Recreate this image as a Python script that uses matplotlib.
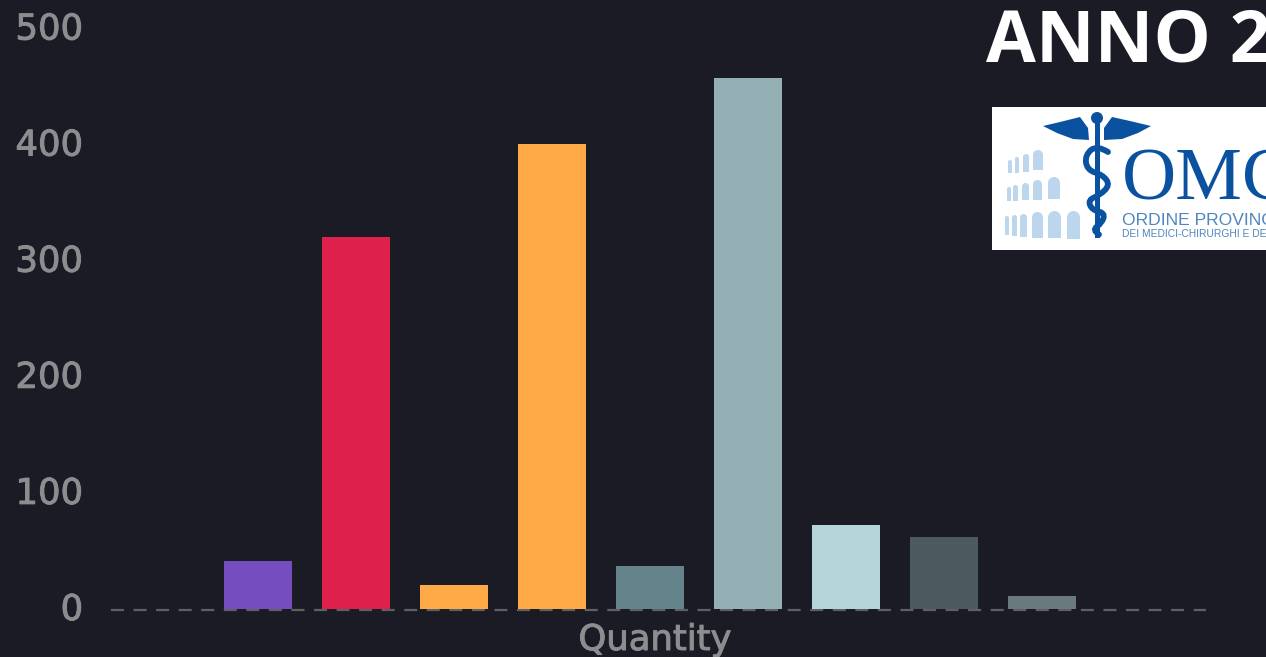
"""Bar chart of quantities on a dark slide, with the title and logo cut off at the right."""

import matplotlib
matplotlib.use("Agg")
import matplotlib.patheffects as pe
import matplotlib.pyplot as plt
from matplotlib.patches import Circle, PathPatch, Polygon, Rectangle
from matplotlib.path import Path
from matplotlib.transforms import ScaledTranslation

W, H = 1266, 657
BG = "#1a1b25"
GREY = "#8b8d8f"
LOGO_BLUE = "#0a52a0"
LOGO_PALE = "#bcd6ee"

values = [41, 320, 20, 400, 37, 457, 72, 62, 11]
bar_colors = ["#754dbf", "#de204d", "#ffa947", "#ffa947", "#64838a",
              "#94b0b5", "#b6d5da", "#4a5a5f", "#69797d"]
yticks = [0, 100, 200, 300, 400, 500]
xlabel = "Quantity"
title = "ANNO 2"
logo_word = "OMC"
logo_line1 = "ORDINE PROVINCIALE"
logo_line2 = "DEI MEDICI-CHIRURGHI E DEGLI"

# arches of the logo: left, right, top, bottom in pixels
arches = [
    (1008, 1012, 160, 173), (1015, 1019, 157, 173), (1023, 1029, 154, 172), (1033, 1043, 150, 170),
    (1007, 1011, 187, 201), (1013, 1018, 185, 201), (1022, 1029, 183, 200), (1033, 1042, 180, 200), (1048, 1060, 177, 199),
    (1005, 1009, 216, 235), (1012, 1017, 215, 236), (1020, 1027, 214, 237), (1032, 1043, 212, 238), (1048, 1061, 211, 238), (1067, 1080, 211, 239),
]
wing_left = [(1043, 126), (1060, 122), (1080, 117), (1088, 128), (1089, 140), (1073, 139), (1057, 133)]
wing_right = [(1151, 126), (1130, 121), (1112, 117), (1104, 128), (1104, 140), (1122, 139), (1138, 133)]
snake = [(1108, 152), (1097, 145), (1085, 155), (1087, 170), (1103, 175), (1110, 185), (1100, 195),
         (1088, 200), (1092, 210), (1105, 213), (1102, 223), (1092, 230), (1106, 239)]


def draw_logo(ov):
    ov.add_patch(Rectangle((992, 107), 274, 143, fc="white", ec="none", zorder=1))
    for x0, x1, top, bottom in arches:
        w = x1 - x0
        ov.add_patch(Rectangle((x0, top + w / 2), w, bottom - top - w / 2, fc=LOGO_PALE, ec="none", zorder=2))
        ov.add_patch(Circle(((x0 + x1) / 2, top + w / 2), w / 2, fc=LOGO_PALE, ec="none", zorder=2))
    ov.add_patch(Polygon(wing_left, fc=LOGO_BLUE, ec="none", zorder=3))
    ov.add_patch(Polygon(wing_right, fc=LOGO_BLUE, ec="none", zorder=3))
    ov.add_patch(Circle((1097, 118), 6, fc=LOGO_BLUE, ec="none", zorder=3))
    ov.add_patch(Rectangle((1095, 120), 4.5, 118, fc=LOGO_BLUE, ec="none", zorder=3))
    # snake as a smooth quadratic path through the midpoints
    verts = [snake[0]]
    codes = [Path.MOVETO]
    for p, q in zip(snake[1:-1], snake[2:]):
        verts += [p, ((p[0] + q[0]) / 2, (p[1] + q[1]) / 2)]
        codes += [Path.CURVE3, Path.CURVE3]
    ov.add_patch(PathPatch(Path(verts, codes), fc="none", ec=LOGO_BLUE, lw=4.2, capstyle="round", zorder=4))
    ov.text(1122, 199, logo_word, family="Liberation Serif", fontsize=54, color=LOGO_BLUE,
            ha="left", va="baseline", zorder=5, clip_on=True)
    ov.text(1122, 225, logo_line1, family="Liberation Sans", fontsize=12.6, color="#4f86bf",
            ha="left", va="baseline", zorder=5, clip_on=True)
    ov.text(1122, 237, logo_line2, family="Liberation Sans", fontsize=7.4, color="#4f86bf",
            ha="left", va="baseline", zorder=5, clip_on=True)


fig = plt.figure(figsize=(W / 100, H / 100), dpi=100, facecolor=BG)

# axes span the dashed baseline horizontally and 0-500 vertically
ax = fig.add_axes([111 / W, 1 - 608.5 / H, (1206 - 111) / W, (608.5 - 28) / H], facecolor=BG)
xs = list(range(len(values)))
ax.bar(xs, values, width=0.694, color=bar_colors, zorder=3)
ax.set_xlim(-1.5, 9.673)
ax.set_ylim(0, 500)
ax.set_yticks(yticks)
ax.set_xticks([])
ax.tick_params(axis="y", length=0, pad=20, labelsize=25.5, labelcolor=GREY)
heavier = [pe.withStroke(linewidth=0.7, foreground=GREY)]
shift_up = ScaledTranslation(0, 2 / 100, fig.dpi_scale_trans)
for lab in ax.get_yticklabels():
    lab.set_family("DejaVu Sans")
    lab.set_path_effects(heavier)
    lab.set_transform(lab.get_transform() + shift_up)
for side in ax.spines:
    ax.spines[side].set_visible(False)
ax.plot([0, 1], [-1.4, -1.4], transform=ax.get_yaxis_transform(), color="#5e6064", lw=1.6,
        dashes=(5.85, 4.3), clip_on=False, zorder=2)
ax.patch.set_alpha(0)

# pixel-space overlay for the slide title, the axis label and the logo
ov = fig.add_axes([0, 0, 1, 1], facecolor="none")
ov.set_xlim(0, W)
ov.set_ylim(H, 0)
ov.axis("off")
ov.text(655, 640, xlabel, family="DejaVu Sans", fontsize=25.5, color=GREY, ha="center", va="center",
        path_effects=heavier)
ov.text(986, 61, title, family="Open Sans", weight="bold", fontsize=52, color="white",
        ha="left", va="baseline", clip_on=True)
draw_logo(ov)

fig.savefig("out.png", dpi=100, facecolor=BG)
